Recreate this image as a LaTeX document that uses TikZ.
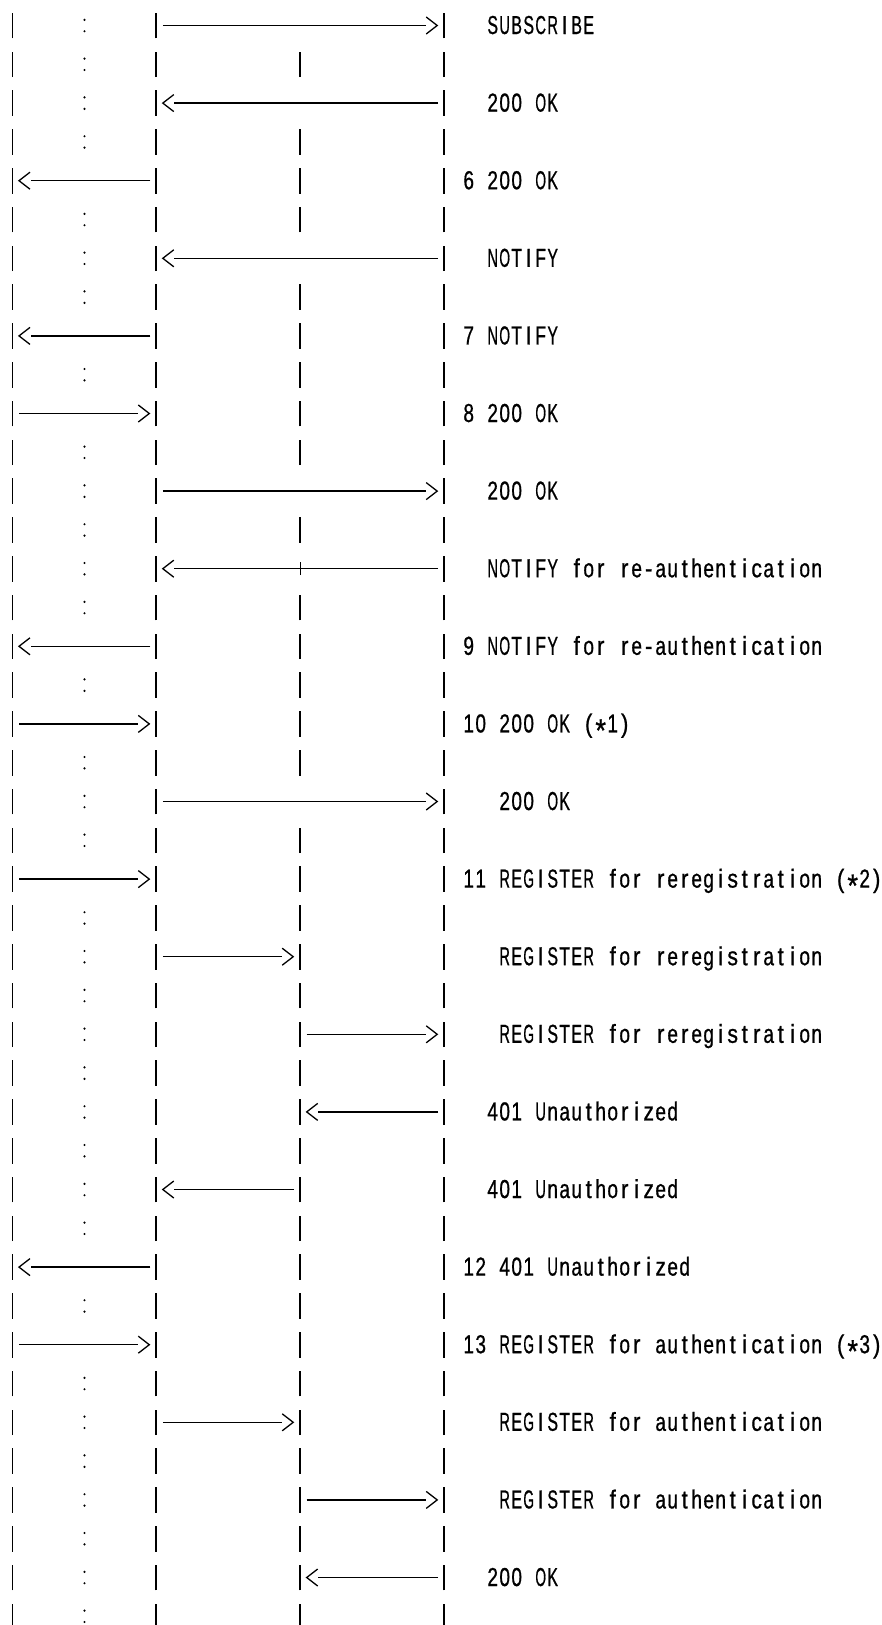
\documentclass[tikz,border=0pt]{standalone}
\usepackage{fontspec}
\newfontfamily\cellfont[FakeStretch=0.85,FakeBold=0.8]{Liberation Sans}
\newsavebox\cellbox
\newcommand\onecell[1]{%
  \sbox\cellbox{#1}%
  \ifdim\wd\cellbox>10.6pt
    \makebox[12pt][c]{\resizebox{10.6pt}{\height}{\usebox\cellbox}}%
  \else
    \makebox[12pt][c]{\usebox\cellbox}%
  \fi}
\ExplSyntaxOn
\NewDocumentCommand\mono{m}{\str_map_inline:nn{#1}{\str_if_eq:nnTF{##1}{*}{\makebox[12pt][c]{\raisebox{-9pt}{\fontsize{32}{32}\selectfont *}}}{\onecell{##1}}}}
\ExplSyntaxOff
\usetikzlibrary{calc}
\tikzset{
  bar/.style={line width=1.9pt},
  msg/.style={line width=1.3pt},
  chev/.style={line width=1.3pt},
  lbl/.style={anchor=base west, inner sep=0pt, font=\cellfont\fontsize{26}{30}\selectfont},
  chevR/.pic={\draw[chev] (-11pt,-8.5pt) -- (0pt,0pt) -- (-11pt,8.5pt);},
  chevL/.pic={\draw[chev] (11pt,-8.5pt) -- (0pt,0pt) -- (11pt,8.5pt);},
}
\newcommand\rarr[2]{%
  \draw[msg] ([xshift=6.5pt]#1) -- ([xshift=-18pt]#2);
  \pic at ([xshift=-7pt]#2) {chevR};}
\newcommand\larr[2]{%
  \draw[msg] ([xshift=-6pt]#1) -- ([xshift=18pt]#2);
  \pic at ([xshift=6.5pt]#2) {chevL};}
\newcommand\msgtext[3]{%
  \node[lbl] (t#1) at ([xshift=#2*12pt]T#1) {\mono{#3}};}
\begin{document}
\begin{tikzpicture}[x=1pt,y=-1pt]
\fill[white] (0,0) rectangle (881,1625);
\useasboundingbox (0,0) rectangle (881,1625);
\clip (0,0) rectangle (881,1625);
% row anchors
\foreach \r in {1,...,42}{
  \pgfmathsetmacro\yy{25.5+(\r-1)*38.8}
  \coordinate (A\r) at (12.5,\yy);
  \coordinate (K\r) at (84.5,\yy);
  \coordinate (B\r) at (156.3,\yy);
  \coordinate (C\r) at (300.2,\yy);
  \coordinate (D\r) at (444.2,\yy);
  \coordinate (T\r) at (6.5,\yy+8.5);
}
% lifeline bars A, B, D in every row
\foreach \r in {1,...,42}{
  \foreach \L in {A,B,D}{
    \draw[bar] ([yshift=-12.8pt]\L\r) -- ([yshift=12.8pt]\L\r);
  }
}
% bar C
\foreach \r in {2,4,...,42,5,9,11,17,19,23,25,27,29,31,33,35,37,39,41}{
  \draw[bar] ([yshift=-12.8pt]C\r) -- ([yshift=12.8pt]C\r);
}
% colons
\foreach \r in {2,4,...,42,1,3,7,13,15,21,25,27,29,31,37,39,41}{
  \fill ([yshift=5.7pt]K\r) circle (1.2pt);
  \fill ([yshift=-5.7pt]K\r) circle (1.2pt);
}
% crossing tick
\draw[msg] ([yshift=-6.5pt]C15) -- ([yshift=6.5pt]C15);
% messages
\rarr{B1}{D1}   \msgtext{1}{40}{SUBSCRIBE}
\larr{D3}{B3}   \msgtext{3}{40}{200 OK}
\larr{B5}{A5}   \msgtext{5}{38}{6 200 OK}
\larr{D7}{B7}   \msgtext{7}{40}{NOTIFY}
\larr{B9}{A9}   \msgtext{9}{38}{7 NOTIFY}
\rarr{A11}{B11} \msgtext{11}{38}{8 200 OK}
\rarr{B13}{D13} \msgtext{13}{40}{200 OK}
\larr{D15}{B15} \msgtext{15}{40}{NOTIFY for re-authentication}
\larr{B17}{A17} \msgtext{17}{38}{9 NOTIFY for re-authentication}
\rarr{A19}{B19} \msgtext{19}{38}{10 200 OK (*1)}
\rarr{B21}{D21} \msgtext{21}{41}{200 OK}
\rarr{A23}{B23} \msgtext{23}{38}{11 REGISTER for reregistration (*2)}
\rarr{B25}{C25} \msgtext{25}{41}{REGISTER for reregistration}
\rarr{C27}{D27} \msgtext{27}{41}{REGISTER for reregistration}
\larr{D29}{C29} \msgtext{29}{40}{401 Unauthorized}
\larr{C31}{B31} \msgtext{31}{40}{401 Unauthorized}
\larr{B33}{A33} \msgtext{33}{38}{12 401 Unauthorized}
\rarr{A35}{B35} \msgtext{35}{38}{13 REGISTER for authentication (*3)}
\rarr{B37}{C37} \msgtext{37}{41}{REGISTER for authentication}
\rarr{C39}{D39} \msgtext{39}{41}{REGISTER for authentication}
\larr{D41}{C41} \msgtext{41}{40}{200 OK}
\end{tikzpicture}
\end{document}
